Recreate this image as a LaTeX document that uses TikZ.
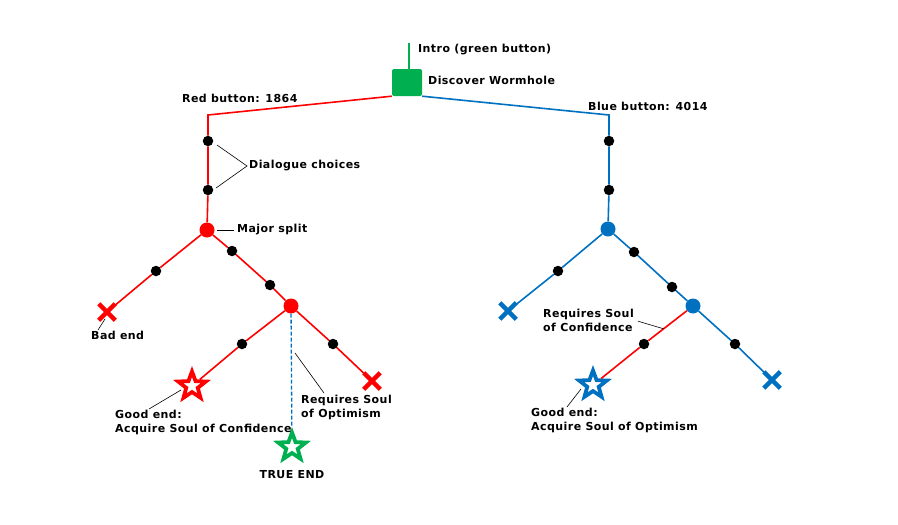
\documentclass[tikz,border=0pt]{standalone}
\usepackage{fontspec}
\setmainfont{DejaVu Sans}[LetterSpace=4]
\usetikzlibrary{calc,shapes.geometric,shapes.misc}
\definecolor{redroute}{HTML}{FF0000}
\definecolor{blueroute}{HTML}{0070C0}
\definecolor{greenroute}{HTML}{00B050}
\tikzset{
  dot/.style={circle, fill=black, inner sep=0pt, minimum size=10.5pt},
  split/.style={circle, fill=#1, inner sep=0pt, minimum size=15pt},
  goodend/.style={star, star points=5, star point ratio=2.4, draw=#1, fill=white,
                  line width=3.8pt, inner sep=0pt, minimum size=29pt},
  badend/.style={cross out, draw=#1, line width=4.5pt, inner sep=0pt, minimum size=12pt},
  route/.style={line width=1.6pt, #1},
  leader/.style={black, line width=0.6pt},
  lbl/.style={font=\fontsize{11}{13.5}\selectfont\bfseries, inner sep=0pt, align=left}
}
\begin{document}
\begin{tikzpicture}[x=1pt, y=-1pt]
\useasboundingbox (0,0) rectangle (898,525);
% start
\coordinate (intro) at (409,43);
\node[rectangle, rounded corners=2pt, fill=greenroute, minimum width=30pt, minimum height=27pt] (wh) at (407,82.5) {};
\draw[route=greenroute] (intro) -- (wh.north -| intro);
\node[lbl, anchor=west] (introlbl) at (418,50) {Intro (green button)};
\node[lbl, anchor=west] (whlbl) at (428,80) {Discover Wormhole};

% red path
\coordinate (rc) at (208,115);
\node[dot] (rd1) at (208,141) {};
\node[dot] (rd2) at (208,190) {};
\node[split=redroute] (rs) at (207,230) {};
\node[dot] (rd3) at (156,271) {};
\node[badend=redroute] (rx1) at (107,312) {};
\node[dot] (rd4) at (232,251) {};
\node[dot] (rd5) at (270,285) {};
\node[split=redroute] (rs2) at (291,306) {};
\node[dot] (rd6) at (242,344) {};
\node[goodend=redroute] (rstar) at (192,386) {};
\node[dot] (rd7) at (333,344) {};
\node[badend=redroute] (rx2) at (372,381) {};
\node[goodend=greenroute] (tstar) at (292,447) {};

\draw[route=redroute] (wh.south west) -- (rc) -- (rd1) -- (rd2) -- (rs);
\draw[route=redroute] (rs) -- (rd3) -- (rx1);
\draw[route=redroute] (rs) -- (rd4) -- (rd5) -- (rs2);
\draw[route=redroute] (rs2) -- (rd6) -- (rstar);
\draw[route=redroute] (rs2) -- (rd7) -- (rx2);
\draw[route=blueroute, line width=1.3pt, dash pattern=on 4pt off 2pt] (rs2) -- (tstar);

% blue path
\coordinate (bc) at (609,115);
\node[dot] (bd1) at (609,141) {};
\node[dot] (bd2) at (609,190) {};
\node[split=blueroute] (bs) at (608,229) {};
\node[dot] (bd3) at (558,271) {};
\node[badend=blueroute] (bx1) at (508,311) {};
\node[dot] (bd4) at (634,252) {};
\node[dot] (bd5) at (672,287) {};
\node[split=blueroute] (bs2) at (693,306) {};
\node[dot] (bd6) at (644,344) {};
\node[goodend=blueroute] (bstar) at (593,385) {};
\node[dot] (bd7) at (735,344) {};
\node[badend=blueroute] (bx2) at (772,380) {};

\draw[route=blueroute] (wh.south east) -- (bc) -- (bd1) -- (bd2) -- (bs);
\draw[route=blueroute] (bs) -- (bd3) -- (bx1);
\draw[route=blueroute] (bs) -- (bd4) -- (bd5) -- (bs2);
\draw[route=redroute] (bs2) -- (bd6) -- (bstar);
\draw[route=blueroute] (bs2) -- (bd7) -- (bx2);

% labels
\node[lbl, anchor=west] (redlbl) at (182,98) {Red button: 1864};
\node[lbl, anchor=west] (bluelbl) at (588,106) {Blue button: 4014};
\node[lbl, anchor=west] (dlg) at (249,166) {Dialogue choices};
\node[lbl, anchor=west] (mjr) at (237,230) {Major split};
\node[lbl, anchor=north west] (bad) at (91,331) {Bad end};
\node[lbl, anchor=north west] (gd1) at (115,410) {Good end:\\Acquire Soul of Confidence};
\node[lbl, anchor=north west] (req1) at (301,395) {Requires Soul\\of Optimism};
\node[lbl, anchor=north] (true) at (292,470) {TRUE END};
\node[lbl, anchor=north west] (req2) at (543,309) {Requires Soul\\of Confidence};
\node[lbl, anchor=north west] (gd2) at (531,408) {Good end:\\Acquire Soul of Optimism};

% leaders
\draw[leader] ($(rd1)+(9,4)$) -- ($(dlg.west)+(-2,0)$) -- ($(rd2)+(8,-2)$);
\draw[leader] ($(rs)+(10,0)$) -- ($(mjr.west)+(-3,0)$);
\draw[leader] ($(rx1)+(-2,7)$) -- ($(bad.north west)+(7,-1)$);
\draw[leader] ($(rstar)+(-11,4)$) -- ($(gd1.north west)+(34,-1)$);
\draw[leader] ($(rs2)+(4,47)$) -- ($(req1.north west)+(23,-2)$);
\draw[leader] ($(req2.east)+(4,1)$) -- ($(bs2)!0.6!(bd6)$);
\draw[leader] ($(bstar)+(-12,4)$) -- ($(gd2.north west)+(36,-1)$);
\end{tikzpicture}
\end{document}
